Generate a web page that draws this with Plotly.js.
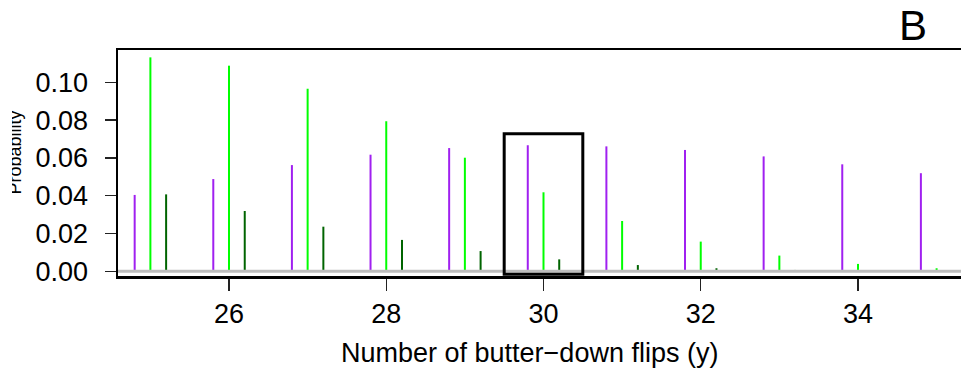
<!DOCTYPE html>
<html>
<head>
<meta charset="utf-8">
<script src="https://cdn.plot.ly/plotly-3.0.1.min.js"></script>
<style>
  html, body { margin: 0; padding: 0; overflow: hidden; background: #fff; }
  #wrap { position: relative; width: 961px; height: 373px; overflow: hidden; }
  #chart { position: absolute; left: 0; top: 0; }
  #mask { position: absolute; left: 0; top: 0; width: 12px; height: 373px; background: #fff; }
</style>
</head>
<body>
<div id="wrap"><div id="chart"></div><div id="mask"></div></div>
<script>
// Data
const xPurple = [24.8, 25.8, 26.8, 27.8, 28.8, 29.8, 30.8, 31.8, 32.8, 33.8, 34.8];
const yPurple = [0.0404, 0.0488, 0.0562, 0.0617, 0.0652, 0.0667, 0.0661, 0.0642, 0.0608, 0.0566, 0.0519];

const xGreen = [25, 26, 27, 28, 29, 30, 31, 32, 33, 34, 35];
const yGreen = [0.1132, 0.1088, 0.0966, 0.0794, 0.0601, 0.0418, 0.0266, 0.0157, 0.0083, 0.0039, 0.0016];

const xDark = [25.2, 26.2, 27.2, 28.2, 29.2, 30.2, 31.2, 32.2, 33.2, 34.2, 35.2];
const yDark = [0.0407, 0.0319, 0.0236, 0.0166, 0.0107, 0.0063, 0.0033, 0.0016, 0.0007, 0.0003, 0.0001];

const yTickVals = [0, 0.02, 0.04, 0.06, 0.08, 0.10];
const xTickVals = [26, 28, 30, 32, 34];

const boxX = [29.5, 30.5];
const boxY = [-0.0016, 0.0728];

function spikes(xs, ys) {
  const X = [], Y = [];
  for (let i = 0; i < xs.length; i++) {
    X.push(xs[i], xs[i], null);
    Y.push(0, ys[i], null);
  }
  return {X, Y};
}

const font = "Liberation Sans, Arial, Helvetica, sans-serif";

function spikeTrace(xs, ys, color) {
  const s = spikes(xs, ys);
  return {
    x: s.X, y: s.Y, type: 'scatter', mode: 'lines',
    line: {color: color, width: 2}, hoverinfo: 'skip', showlegend: false
  };
}

const data = [
  spikeTrace(xPurple, yPurple, '#A020F0'),
  spikeTrace(xGreen, yGreen, '#00FF00'),
  spikeTrace(xDark, yDark, '#006400')
];

const layout = {
  width: 980, height: 373,
  margin: {l: 118, r: 0, t: 50, b: 97, pad: 0},
  paper_bgcolor: '#fff', plot_bgcolor: '#fff',
  showlegend: false,
  font: {family: font, color: '#000'},
  xaxis: {
    range: [24.588, 35.552], tickvals: xTickVals, ticktext: xTickVals.map(String),
    showgrid: false, zeroline: false,
    showline: true, linecolor: '#000', linewidth: 2.5, mirror: true,
    ticks: 'outside', ticklen: 12, tickwidth: 1.5, tickcolor: '#222',
    tickfont: {size: 27, family: font, color: '#000'},
    ticklabelstandoff: 0
  },
  yaxis: {
    range: [-0.0025, 0.1171], tickvals: yTickVals, ticktext: yTickVals.map(v => v.toFixed(2)),
    showgrid: false, zeroline: false,
    showline: true, linecolor: '#000', linewidth: 2.5, mirror: true,
    ticks: 'outside', ticklen: 11, tickwidth: 1.5, tickcolor: '#222',
    tickfont: {size: 27, family: font, color: '#000'},
    ticklabelstandoff: 11
  },
  shapes: [
    {type: 'line', xref: 'paper', yref: 'y', x0: 0, x1: 1, y0: 0, y1: 0,
     line: {color: '#bebebe', width: 3}, layer: 'above'},
    {type: 'rect', xref: 'x', yref: 'y', x0: boxX[0], x1: boxX[1], y0: boxY[0], y1: boxY[1],
     line: {color: '#000', width: 3}, fillcolor: 'rgba(0,0,0,0)', layer: 'above'}
  ],
  annotations: [
    {text: 'Number of butter\u2212down flips (y)', xref: 'paper', yref: 'paper',
     x: 0.4774, y: -0.3400, xanchor: 'center', yanchor: 'middle', showarrow: false,
     font: {size: 27, family: font, color: '#000'}},
    {text: 'Probability', xref: 'paper', yref: 'paper', textangle: -90,
     x: -0.1195, y: 0.5465, xanchor: 'center', yanchor: 'middle', showarrow: false,
     font: {size: 18, family: font, color: '#000'}},
    {text: 'B', xref: 'paper', yref: 'paper',
     x: 0.9217, y: 1.1106, xanchor: 'center', yanchor: 'middle', showarrow: false,
     font: {size: 42, family: font, color: '#000'}}
  ]
};

Plotly.newPlot('chart', data, layout, {displayModeBar: false, staticPlot: true});
</script>
</body>
</html>
